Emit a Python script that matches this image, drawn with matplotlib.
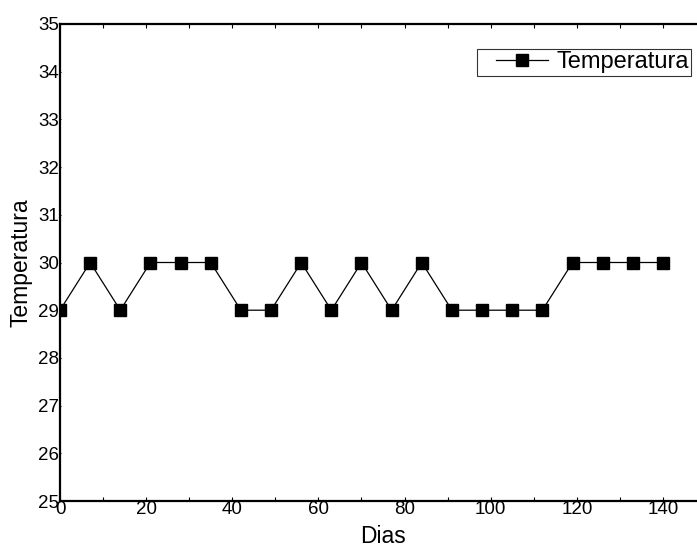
import matplotlib
matplotlib.use("Agg")
import matplotlib.pyplot as plt
from matplotlib.ticker import MultipleLocator
from matplotlib.legend_handler import HandlerLine2D

dias = [0, 7, 14, 21, 28, 35, 42, 49, 56, 63, 70, 77, 84, 91, 98, 105, 112, 119, 126, 133, 140]
temperatura = [29, 30, 29, 30, 30, 30, 29, 29, 30, 29, 30, 29, 30, 29, 29, 29, 29, 30, 30, 30, 30]

plt.rcParams['font.family'] = ['Liberation Sans', 'DejaVu Sans']

fig = plt.figure(figsize=(6.97, 5.5), dpi=100)
W, H = 697, 550
left, top, bottom = 60, 24, 501
right = 60 + 150 * 4.307
ax = fig.add_axes([left / W, 1 - bottom / H, (right - left) / W, (bottom - top) / H])

line, = ax.plot(dias, temperatura, color='black', linewidth=0.9, marker='s', markersize=8,
                markerfacecolor='black', markeredgecolor='black', label='Temperatura')

ax.set_xlim(0, 150)
ax.set_ylim(25, 35)
ax.xaxis.set_major_locator(MultipleLocator(20))
ax.xaxis.set_minor_locator(MultipleLocator(10))
ax.yaxis.set_major_locator(MultipleLocator(1))

for s in ax.spines.values():
    s.set_linewidth(1.6)
ax.tick_params(which='both', direction='in', top=True, right=False, labelsize=13.5,
               width=0.8)
ax.tick_params(which='major', length=3, pad=0)
ax.tick_params(which='minor', length=3)
ax.tick_params(axis='y', which='major', length=0.8, pad=0.5)

ax.set_xlabel('Dias', fontsize=16.5, labelpad=5)
ax.set_ylabel('Temperatura', fontsize=16.5, labelpad=4)

leg = ax.legend(loc='upper left', bbox_to_anchor=((477 - left) / (right - left), 1 - (49 - top) / (bottom - top)),
                fontsize=17, frameon=True, fancybox=False, borderpad=0.1,
                handlelength=2.9, handletextpad=0.35, borderaxespad=0,
                handler_map={line: HandlerLine2D(xpad=0.72)})
leg.get_frame().set_edgecolor('black')
leg.get_frame().set_linewidth(0.8)

fig.savefig('out.png', dpi=100)
